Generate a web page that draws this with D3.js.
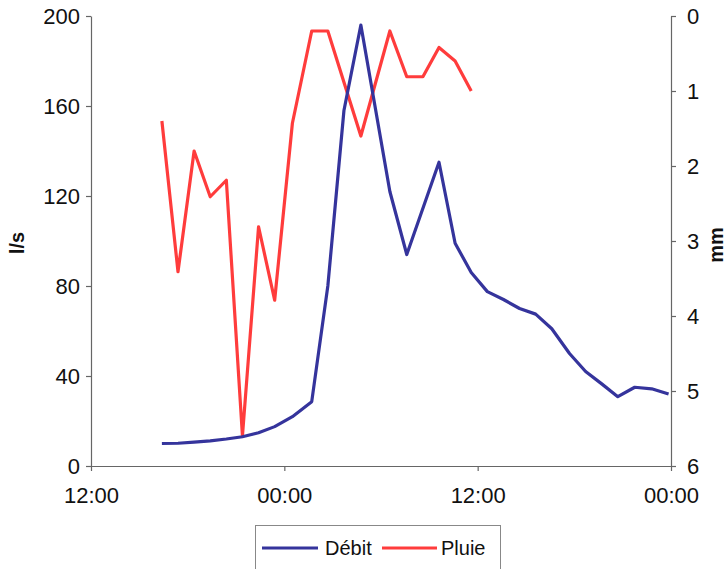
<!DOCTYPE html>
<html>
<head>
<meta charset="utf-8">
<script src="https://cdn.jsdelivr.net/npm/d3@7"></script>
<style>
  body { margin: 0; background: #fff; }
  text { font-family: "Liberation Sans", Arial, sans-serif; fill: #111; }
</style>
</head>
<body>
<svg id="chart" width="728" height="569"></svg>
<script>
// heures depuis 12:00 (jour 1)
var debitHeures = [4.4, 5.4, 6.4, 7.4, 8.4, 9.4, 10.4, 11.4, 12.5, 13.7, 14.7, 15.7, 16.75, 18.55, 19.6, 21.6, 22.6, 23.6,
                   24.6, 25.6, 26.6, 27.6, 28.6, 29.7, 30.7, 31.7, 32.7, 33.75, 34.8, 35.85];
var debitLs = [10, 10.1, 10.6, 11.2, 12, 13, 14.8, 17.5, 21.9, 28.6, 80, 158, 196, 122, 94, 135, 99, 86,
               77.5, 74, 70, 67.5, 61, 50, 42, 36.5, 30.8, 35, 34.3, 32];

var pluieHeures = [4.4, 5.4, 6.4, 7.4, 8.4, 9.4, 10.4, 11.4, 12.5, 13.7, 14.7, 16.75, 18.55, 19.6, 20.6, 21.6, 22.6, 23.6];
var pluieMm = [1.4, 3.41, 1.8, 2.41, 2.19, 5.6, 2.81, 3.79, 1.43, 0.2, 0.2, 1.6, 0.2, 0.81, 0.81, 0.42, 0.6, 1.0];

var xTicks = [0, 12, 24, 36];
var xTickLabels = ["12:00", "00:00", "12:00", "00:00"];
var yTicks = [0, 40, 80, 120, 160, 200];
var y2Ticks = [0, 1, 2, 3, 4, 5, 6];

var svg = d3.select("#chart");
var plotLeft = 91, plotRight = 671, plotTop = 16, plotBottom = 466;

var x = d3.scaleLinear().domain([0, 36]).range([plotLeft, plotRight]);
var y = d3.scaleLinear().domain([0, 200]).range([plotBottom, plotTop]);
var y2 = d3.scaleLinear().domain([0, 6]).range([plotTop, plotBottom]);

function styleAxis(g){
  g.selectAll("path, line").attr("stroke", "#666").attr("stroke-width", 1.2);
  g.selectAll("text").style("font-size", "22px").attr("fill", "#111");
}

svg.append("g").attr("transform", "translate(" + plotLeft + ",0)")
  .call(d3.axisLeft(y).tickValues(yTicks).tickSize(5).tickSizeOuter(0).tickPadding(6))
  .call(styleAxis);

svg.append("g").attr("transform", "translate(" + plotRight + ",0)")
  .call(d3.axisRight(y2).tickValues(y2Ticks).tickFormat(d3.format("d")).tickSize(5).tickSizeOuter(0).tickPadding(11))
  .call(styleAxis);

svg.append("g").attr("transform", "translate(0," + plotBottom + ")")
  .call(d3.axisBottom(x).tickValues(xTicks).tickFormat(function(d, i){ return xTickLabels[i]; })
        .tickSize(5).tickSizeOuter(0).tickPadding(16))
  .call(styleAxis);

svg.append("text").attr("transform", "translate(24,243) rotate(-90)")
  .attr("text-anchor", "middle").style("font-size", "20px").style("font-weight", "bold").text("l/s");
svg.append("text").attr("transform", "translate(723,245) rotate(-90)")
  .attr("text-anchor", "middle").style("font-size", "20px").style("font-weight", "bold").text("mm");

var blue = "#35349c", red = "#ff3c3c";

var debitLine = d3.line().x(function(d, i){ return x(debitHeures[i]); }).y(function(d){ return y(d); });
var pluieLine = d3.line().x(function(d, i){ return x(pluieHeures[i]); }).y(function(d){ return y2(d); });

svg.append("path").datum(pluieMm).attr("d", pluieLine)
  .attr("fill", "none").attr("stroke", red).attr("stroke-width", 3.2).attr("stroke-linejoin", "round");
svg.append("path").datum(debitLs).attr("d", debitLine)
  .attr("fill", "none").attr("stroke", blue).attr("stroke-width", 3.2).attr("stroke-linejoin", "round");

// legende
var leg = svg.append("g");
leg.append("rect").attr("x", 255.5).attr("y", 525.5).attr("width", 245).attr("height", 60)
  .attr("fill", "#fff").attr("stroke", "#888");
leg.append("line").attr("x1", 262).attr("x2", 318).attr("y1", 548).attr("y2", 548)
  .attr("stroke", blue).attr("stroke-width", 3.2);
leg.append("text").attr("x", 325).attr("y", 555).style("font-size", "20px").text("Débit");
leg.append("line").attr("x1", 382).attr("x2", 437).attr("y1", 548).attr("y2", 548)
  .attr("stroke", red).attr("stroke-width", 3.2);
leg.append("text").attr("x", 441).attr("y", 555).style("font-size", "20px").text("Pluie");
</script>
</body>
</html>
